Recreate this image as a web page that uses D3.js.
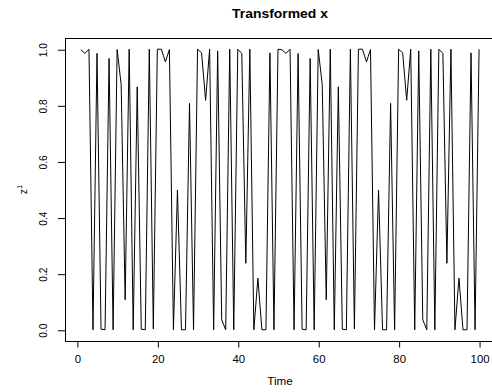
<!DOCTYPE html>
<html>
<head>
<meta charset="utf-8">
<script src="https://cdn.jsdelivr.net/npm/d3@7"></script>
<style>
  html, body { margin: 0; padding: 0; background: #fff; }
  svg { display: block; font-family: "Liberation Sans", Arial, Helvetica, sans-serif; }
</style>
</head>
<body>
<svg id="chart" width="492" height="392"></svg>
<script>
// ---- data ----
const title = "Transformed x";
const xLabel = "Time";
const yLabelBase = "z";
const yLabelSup = "1";
const times = d3.range(1, 101);
const values = [
  0.998, 0.985, 1.000, 0.000, 0.985, 0.002, 0.000, 0.967, 0.000, 0.999,
  0.875, 0.107, 1.000, 0.000, 0.866, 0.002, 0.000, 1.000, 0.003, 1.000,
  1.000, 0.955, 0.999, 0.000, 0.498, 0.000, 0.000, 0.807, 0.000, 1.000,
  0.987, 0.818, 1.000, 0.000, 0.994, 0.036, 0.000, 1.000, 0.000, 1.000,
  0.985, 0.237, 1.000, 0.000, 0.184, 0.000, 0.000, 0.987, 0.000, 1.000,
  0.998, 0.985, 1.000, 0.000, 0.985, 0.002, 0.000, 0.967, 0.000, 0.999,
  0.875, 0.107, 1.000, 0.000, 0.866, 0.002, 0.000, 1.000, 0.003, 1.000,
  1.000, 0.955, 0.999, 0.000, 0.498, 0.000, 0.000, 0.807, 0.000, 1.000,
  0.987, 0.818, 1.000, 0.000, 0.994, 0.036, 0.000, 1.000, 0.000, 1.000,
  0.985, 0.237, 1.000, 0.000, 0.184, 0.000, 0.000, 0.987, 0.000, 1.000
];
const xTicks = [0, 20, 40, 60, 80, 100];
const yTicks = [0.0, 0.2, 0.4, 0.6, 0.8, 1.0];

(function () {
// ---- layout ----
const svg = d3.select("#chart");
const pL = 65, pR = 495, pT = 38, pB = 341;
const sx = 1.14; // horizontal stretch of the reference's text

const xExt = [1 - 0.04 * 99, 100 + 0.04 * 99];
const x = d3.scaleLinear().domain(xExt).range([pL, pR]);
const y = d3.scaleLinear().domain([-0.04, 1.04]).range([pB, pT]);

// plot box
svg.append("rect")
  .attr("x", pL + 0.5).attr("y", pT + 0.5)
  .attr("width", pR - pL).attr("height", pB - pT)
  .attr("fill", "none").attr("stroke", "#000").attr("stroke-width", 1);

// series line
const line = d3.line().x((d, i) => x(times[i])).y(d => y(d));
svg.append("path")
  .datum(values)
  .attr("d", line)
  .attr("fill", "none")
  .attr("stroke", "#000")
  .attr("stroke-width", 1)
  .attr("stroke-linejoin", "round");

// x axis
const xAxis = d3.axisBottom(x).tickValues(xTicks).tickSize(6).tickPadding(0).tickFormat(d3.format("d"));
const gx = svg.append("g").attr("transform", `translate(0.5,${pB + 0.5})`).call(xAxis);
gx.select(".domain").attr("d", `M${x(0)},0H${x(100)}`).attr("stroke", "#000");
gx.selectAll(".tick line").attr("stroke", "#000");
gx.selectAll(".tick text")
  .attr("y", 0).attr("dy", 0)
  .attr("transform", "translate(0,21.5) scale(" + sx + ",1)")
  .attr("font-size", 10).attr("fill", "#000")
  .attr("font-family", "Liberation Sans, Arial, sans-serif");

// y axis
const yAxis = d3.axisLeft(y).tickValues(yTicks).tickSize(7.5).tickFormat(d3.format(".1f"));
const gy = svg.append("g").attr("transform", `translate(${pL + 0.5},0.5)`).call(yAxis);
gy.select(".domain").attr("d", `M0,${y(0)}V${y(1)}`).attr("stroke", "#000");
gy.selectAll(".tick line").attr("stroke", "#000");
gy.selectAll(".tick text")
  .attr("x", 0).attr("dy", 0)
  .attr("text-anchor", "middle")
  .attr("transform", "translate(-18.5,0) rotate(-90)")
  .attr("font-size", 10.2).attr("fill", "#000")
  .attr("font-family", "Liberation Sans, Arial, sans-serif");

// title
svg.append("text")
  .attr("transform", `translate(${(pL + pR) / 2},17.5) scale(${sx},1)`)
  .attr("text-anchor", "middle")
  .attr("font-weight", "bold")
  .attr("font-size", 12.2)
  .text(title);

// x label
svg.append("text")
  .attr("transform", `translate(${(pL + pR) / 2},384.5) scale(${sx},1)`)
  .attr("text-anchor", "middle")
  .attr("font-size", 10.2)
  .text(xLabel);

// y label with superscript
const yl = svg.append("text")
  .attr("transform", `translate(27,${(pT + pB) / 2}) rotate(-90)`)
  .attr("text-anchor", "middle")
  .attr("font-size", 10.2);
yl.append("tspan").text(yLabelBase);
yl.append("tspan").attr("dy", -5).attr("font-size", 7.5).text(yLabelSup);
})();
</script>
</body>
</html>
